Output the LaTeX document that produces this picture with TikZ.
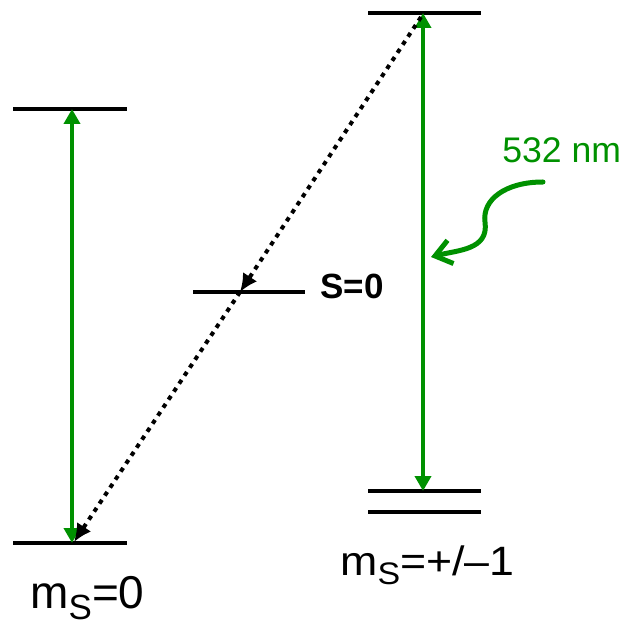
\documentclass[tikz,border=0pt]{standalone}
\usepackage{fontspec}
\setmainfont{Liberation Sans}
\usetikzlibrary{arrows.meta}
\definecolor{NvGreen}{RGB}{0,145,0}
\definecolor{NvBlack}{RGB}{0,0,0}
\newcommand{\spinsub}[1]{\raisebox{-0.24em}{\scalebox{0.76}{#1}}}
\tikzset{
  nv/level/.style={draw=NvBlack, line width=2.3pt},
  nv/pump/.style={
    draw=NvGreen,
    line width=2pt,
    {Triangle[length=7.5pt,width=8pt]}-{Triangle[length=7.5pt,width=8pt]}
  },
  nv/decay/.style={
    draw=NvBlack,
    line width=2pt,
    dash pattern=on 2.2pt off 2.6pt,
    -{Latex[length=9pt,width=8.5pt]}
  },
  nv/wave/.style={
    draw=NvGreen,
    line width=2.5pt,
    line cap=round,
    -{Straight Barb[length=8pt,width=12pt]}
  },
  nv/label/.style={anchor=base west, inner sep=0pt, text=NvBlack},
  nv/greenlabel/.style={anchor=base west, inner sep=0pt, text=NvGreen}
}

\begin{document}
\begin{tikzpicture}[x=0.5pt,y=-0.5pt]
  \useasboundingbox (0,0) rectangle (625,624);
  \coordinate (exL) at (72,109);
  \coordinate (gsL) at (72,543);
  \coordinate (exR) at (423,13);
  \coordinate (gsR) at (423,491);
  \coordinate (singlet) at (240,292);
  \coordinate (decayTop) at (421,17);
  \coordinate (decayEnd) at (74,542);
  \coordinate (waveStart) at (543,182);
  \coordinate (waveEnd) at (431,257);

  \draw[nv/level] (13,109) -- (127,109);
  \draw[nv/level] (13,543) -- (127,543);
  \draw[nv/level] (193,292) -- (305,292);
  \draw[nv/level] (368,13) -- (481,13);
  \draw[nv/level] (368,491) -- (481,491);
  \draw[nv/level] (368,512) -- (481,512);

  \draw[nv/pump] (gsL) -- (exL);
  \draw[nv/pump] (gsR) -- (exR);
  \draw[nv/decay] (decayTop) -- (singlet);
  \draw[nv/decay] (singlet) -- (decayEnd);
  \draw[nv/wave] (waveStart) .. controls (505,182) and (482,200) .. (485,222)
    .. controls (489,250) and (458,250) .. (waveEnd);

  \node[nv/label,font=\bfseries\fontsize{17.5}{21}\selectfont] (singletLabel) at (320,299) {S=0};
  \node[nv/greenlabel,font=\fontsize{17.8}{21}\selectfont] (laserLabel) at (502,163) {532 nm};
  \node[nv/label,font=\fontsize{23}{27}\selectfont] (zeroLabel) at (30,608) {m\spinsub{S}=0};
  \node[nv/label,font=\fontsize{20.5}{24}\selectfont] (plusMinusLabel) at (340,575) {\scalebox{1.09}[1]{m\spinsub{S}=+/--1}};
\end{tikzpicture}
\end{document}
